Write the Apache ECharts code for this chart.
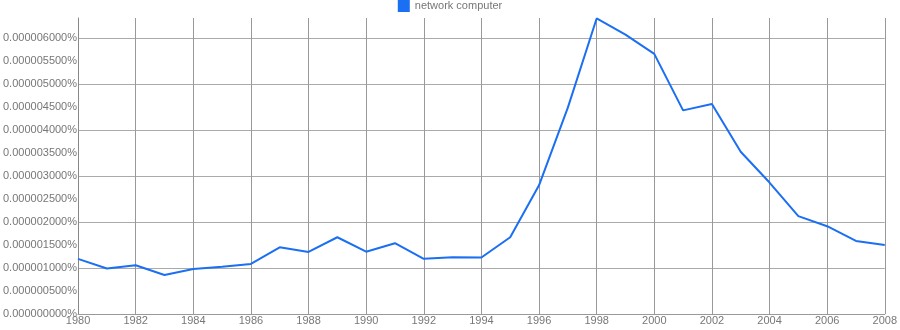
<!DOCTYPE html>
<html>
<head>
<meta charset="utf-8">
<script src="https://cdn.jsdelivr.net/npm/echarts@6/dist/echarts.min.js"></script>
<style>
html,body{margin:0;padding:0;background:#fff;}
#chart{width:900px;height:330px;}
</style>
</head>
<body>
<div id="chart"></div>
<script>
var seriesName = 'network computer';
var years = [1980,1981,1982,1983,1984,1985,1986,1987,1988,1989,1990,1991,1992,1993,1994,1995,1996,1997,1998,1999,2000,2001,2002,2003,2004,2005,2006,2007,2008];
var values = [1.20,0.99,1.06,0.85,0.98,1.03,1.09,1.45,1.35,1.67,1.355,1.54,1.20,1.235,1.23,1.67,2.80,4.49,6.43,6.08,5.66,4.43,4.57,3.53,2.86,2.13,1.91,1.59,1.50];
var valueScale = 1e-6;

var chart = echarts.init(document.getElementById('chart'), null, {renderer: 'canvas'});
var data = years.map(function (y, i) { return [y, values[i] * valueScale]; });

chart.setOption({
  animation: false,
  backgroundColor: '#ffffff',
  textStyle: {fontFamily: 'Liberation Sans, Arial, sans-serif'},
  legend: {
    top: 0,
    left: 'center',
    padding: 0,
    itemWidth: 12,
    itemHeight: 12,
    icon: 'rect',
    textStyle: {color: '#777', fontSize: 11, fontFamily: 'Liberation Sans, Arial, sans-serif'},
    data: [seriesName]
  },
  grid: {left: 77, right: 14, top: 18, bottom: 16, containLabel: false},
  xAxis: {
    type: 'value',
    min: 1980,
    max: 2008,
    interval: 2,
    axisLine: {show: true, lineStyle: {color: '#999', width: 1}},
    axisTick: {show: false},
    axisLabel: {color: '#777', fontSize: 11, margin: 1, formatter: function (v) { return String(v); }},
    splitLine: {show: true, lineStyle: {color: '#999', width: 1}}
  },
  yAxis: {
    type: 'value',
    min: 0,
    max: 6.44e-6,
    interval: 0.5e-6,
    axisLine: {show: true, lineStyle: {color: '#888', width: 1}},
    axisTick: {show: false},
    axisLabel: {
      color: '#777', fontSize: 11, margin: 1, showMaxLabel: false,
      formatter: function (v) { return v.toFixed(9) + '%'; }
    },
    splitLine: {show: true, lineStyle: {color: ['#aaa', 'rgba(0,0,0,0)'], width: 1}}
  },
  series: [{
    name: seriesName,
    type: 'line',
    data: data,
    symbol: 'none',
    color: '#1b6ff2',
    lineStyle: {width: 2, color: '#1b6ff2'}
  }]
});
</script>
</body>
</html>
